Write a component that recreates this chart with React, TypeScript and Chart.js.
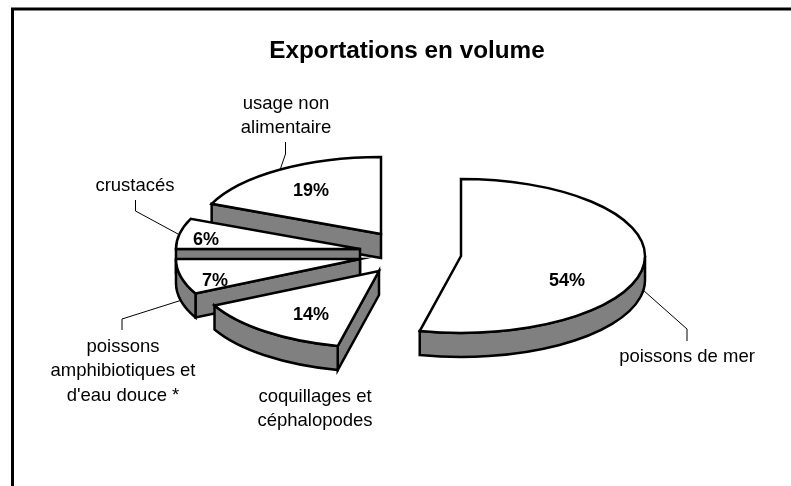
import React, { useEffect, useRef } from "react";
import { Chart, registerables } from "chart.js";

Chart.register(...registerables);

const categories = [
  "poissons de mer",
  "coquillages et céphalopodes",
  "poissons amphibiotiques et d'eau douce *",
  "crustacés",
  "usage non alimentaire",
];
const shares = [53.6, 14.0, 7.4, 6.4, 18.6];
const title = "Exportations en volume";

const FONT = "'Liberation Sans', Arial, sans-serif";
const TILT = 77 / 184;
const DEPTH = 24;

// How far each slice is pulled out of the pie, and where its annotations go.
const explode = [
  [54, 6],
  [-28, 21],
  [-47, 9],
  [-47, -1],
  [-26, -16],
];
const percentAt = [
  [567, 281],
  [311, 315],
  [215, 281],
  [206, 240],
  [311, 191],
];
const calloutLines = [
  { lines: ["poissons de mer"], x: 687, y: [357], leader: [[687, 341], [687, 329], [643, 290]] },
  { lines: ["coquillages et", "céphalopodes"], x: 315, y: [397, 421], leader: [] },
  { lines: ["poissons", "amphibiotiques et", "d'eau douce *"], x: 123, y: [347, 371, 396], leader: [[122, 330], [122, 319], [182, 300]] },
  { lines: ["crustacés"], x: 135, y: [186], leader: [[135.5, 200], [135.5, 211], [178, 234]] },
  { lines: ["usage non", "alimentaire"], x: 286, y: [104, 128], leader: [[285.5, 142], [285.5, 154], [280, 170]] },
];

const pie3d = {
  id: "pie3d",
  beforeDraw(chart: any) {
    const { ctx, width, height } = chart;
    ctx.save();
    ctx.strokeStyle = "#000";
    ctx.lineWidth = 3;
    ctx.beginPath();
    ctx.moveTo(12.5, height);
    ctx.lineTo(12.5, 9);
    ctx.lineTo(width, 9);
    ctx.stroke();
    ctx.restore();
  },
  beforeDatasetDraw(chart: any) {
    const { ctx } = chart;
    const arcs = chart.getDatasetMeta(0).data;
    const total = shares.reduce((a, b) => a + b, 0);
    const order = [0, 4, 3, 2, 1];

    ctx.save();
    ctx.lineJoin = "miter";
    ctx.strokeStyle = "#000";
    ctx.lineWidth = 2.5;
    for (const i of order) {
      const a = arcs[i];
      const cx = a.x + explode[i][0];
      const cy = a.y + explode[i][1];
      const rx = a.outerRadius;
      const ry = rx * TILT;
      const s = a.startAngle;
      const e = a.endAngle;
      const px = (t: number) => cx + rx * Math.cos(t);
      const py = (t: number) => cy + ry * Math.sin(t);
      ctx.fillStyle = "#808080";

      // radial side faces that look towards the viewer
      const radial = (t: number) => {
        ctx.beginPath();
        ctx.moveTo(cx, cy);
        ctx.lineTo(px(t), py(t));
        ctx.lineTo(px(t), py(t) + DEPTH);
        ctx.lineTo(cx, cy + DEPTH);
        ctx.closePath();
        ctx.fill();
        ctx.stroke();
      };
      if (Math.cos(s) < 0) radial(s);
      if (Math.cos(e) > 0) radial(e);

      // outer rim, only on the near half of the ellipse
      const from = Math.max(s, 0);
      const to = Math.min(e, Math.PI);
      if (to > from) {
        ctx.beginPath();
        ctx.ellipse(cx, cy, rx, ry, 0, from, to);
        ctx.lineTo(px(to), py(to) + DEPTH);
        ctx.ellipse(cx, cy + DEPTH, rx, ry, 0, to, from, true);
        ctx.closePath();
        ctx.fill();
        ctx.stroke();
      }

      // top face
      ctx.fillStyle = "#fff";
      ctx.beginPath();
      ctx.moveTo(cx, cy);
      ctx.ellipse(cx, cy, rx, ry, 0, s, e);
      ctx.closePath();
      ctx.fill();
      ctx.stroke();
    }

    // thin leader lines
    ctx.lineWidth = 1;
    for (const c of calloutLines) {
      if (!c.leader.length) continue;
      ctx.beginPath();
      c.leader.forEach((p, k) => (k ? ctx.lineTo(p[0], p[1]) : ctx.moveTo(p[0], p[1])));
      ctx.stroke();
    }

    // texts
    ctx.fillStyle = "#000";
    ctx.textAlign = "center";
    ctx.textBaseline = "middle";
    ctx.font = `18.5px ${FONT}`;
    for (const c of calloutLines) {
      c.lines.forEach((t, k) => ctx.fillText(t, c.x, c.y[k]));
    }
    ctx.font = `bold 18px ${FONT}`;
    shares.forEach((v, i) => {
      ctx.fillText(`${Math.round((v / total) * 100)}%`, percentAt[i][0], percentAt[i][1]);
    });
    ctx.restore();
    return false;
  },
};

export default function App() {
  const ref = useRef<HTMLCanvasElement>(null);
  useEffect(() => {
    const chart = new Chart(ref.current as HTMLCanvasElement, {
      type: "pie",
      data: {
        labels: categories,
        datasets: [{ data: shares, backgroundColor: "#fff", borderColor: "#000", borderWidth: 0 }],
      },
      options: {
        responsive: false,
        animation: false,
        layout: { padding: { top: 0, bottom: 52, left: 50, right: 27 } },
        plugins: {
          legend: { display: false },
          tooltip: { enabled: false },
          title: {
            display: true,
            text: title,
            color: "#000",
            font: { family: FONT, size: 24.3, weight: "bold", lineHeight: 1.2 },
            padding: { top: 36.4, bottom: 0.4 },
          },
        },
      },
      plugins: [pie3d],
    } as any);
    return () => chart.destroy();
  }, []);
  return (
    <canvas
      ref={ref}
      width={791}
      height={486}
      style={{ position: "fixed", left: 0, top: 0, display: "block", background: "#fff" }}
    />
  );
}
